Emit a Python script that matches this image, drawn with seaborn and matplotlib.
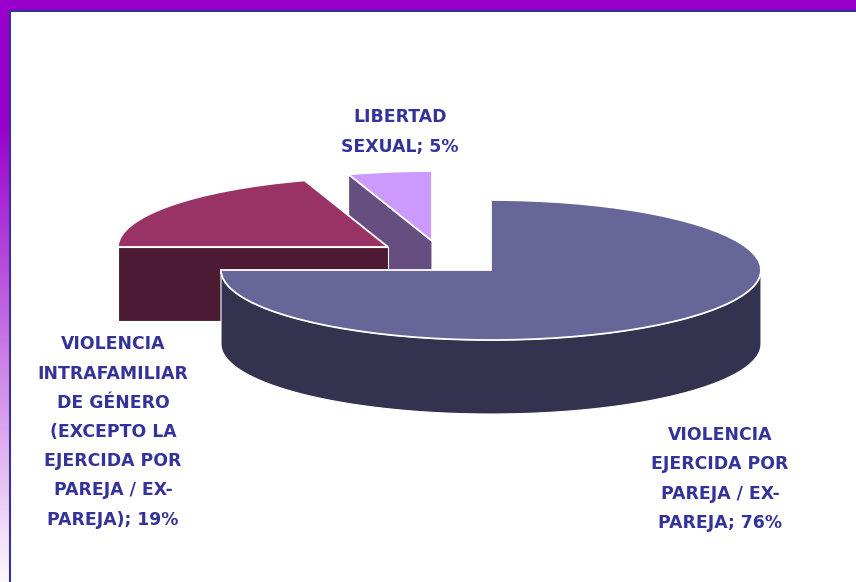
import numpy as np
import matplotlib
matplotlib.use("Agg")
import matplotlib.pyplot as plt
import seaborn as sns

# Data
categories = [
    "VIOLENCIA\nEJERCIDA POR\nPAREJA / EX-\nPAREJA",
    "VIOLENCIA\nINTRAFAMILIAR\nDE GÉNERO\n(EXCEPTO LA\nEJERCIDA POR\nPAREJA / EX-\nPAREJA)",
    "LIBERTAD\nSEXUAL",
]
values = [76, 19, 5]
top_colors = ["#666699", "#993366", "#CC99FF"]
wall_colors = ["#333350", "#4C1A32", "#664E80"]

W, H = 856, 582
RX, RY = 270, 70      # pie radii in pixels
DEPTH = 74 / RY
CX, CY = 491, 270     # centre of the big slice
OFFSETS = [(0, 0), (-103, -23), (-59, -29)]
LABEL_XY = [(720, 479), (113, 432), (400, 132)]
VIEW_SHIFT = 3.6      # the 3-D view foreshortens the border between slices 1 and 2

sns.set_theme(style="white")
plt.rcParams["font.family"] = ["DejaVu Sans"]

fig = plt.figure(figsize=(W / 100, H / 100), dpi=100)
ax = fig.add_axes([0, 0, 1, 1])

starts = 90 - 3.6 * np.concatenate([[0], np.cumsum(values)[:-1]])
# draw back to front
for i in [2, 1, 0]:
    cx = OFFSETS[i][0] / RX
    cy = -OFFSETS[i][1] / RY
    wedges, _ = ax.pie(
        [values[i], 100 - values[i]],
        startangle=starts[i],
        counterclock=False,
        center=(cx, cy),
        radius=1,
        colors=[top_colors[i], "none"],
        wedgeprops={"linewidth": 0},
    )
    top = wedges[0]
    wedges[1].set_visible(False)
    if i == 0:
        top.set_theta1(top.theta1 + VIEW_SHIFT)
    elif i == 1:
        top.set_theta2(top.theta2 + VIEW_SHIFT)
    wall_z = 9 + (2 - i) * 2
    top.set_zorder(wall_z + 1)
    if i == 0:
        # outer rim of the big slice, front half only
        a = np.radians(np.linspace(180, 360, 200))
        xs = np.cos(a) + cx
        ys = np.sin(a) + cy
    else:
        # cut face of the exploded slices
        ang = np.radians(top.theta2)
        xs = np.array([cx, cx + np.cos(ang)])
        ys = np.array([cy, cy + np.sin(ang)])
    ax.fill(np.r_[xs, xs[::-1]], np.r_[ys, ys[::-1] - DEPTH],
            color=wall_colors[i], ec="white", lw=0.8, zorder=wall_z)
    top.set_edgecolor("white")
    top.set_linewidth(1.3)

ax.set_aspect("auto")
ax.set_xlim(-CX / RX, (W - CX) / RX)
ax.set_ylim((CY - H) / RY, CY / RY)
ax.axis("off")

# Labels
for cat, val, (lx, ly) in zip(categories, values, LABEL_XY):
    fig.text(lx / W, 1 - ly / H, f"{cat}; {val}%", ha="center", va="center",
             color="#333399", fontsize=12.4, fontweight="bold", linespacing=1.8,
             zorder=30)

# Slide frame: solid purple on top, fading to white down the left strip
purple = np.array([0x99, 0x00, 0xCC]) / 255
frame = fig.add_axes([0, 0, 1, 1], zorder=-1)
grad = np.clip((np.arange(H) - 125) / (H - 115), 0, 1)[:, None, None]
img = purple * (1 - grad) + grad
frame.imshow(img, extent=(0, 10, H, 0), aspect="auto")
frame.fill_between([0, W], 0, 10, color=purple, lw=0)
frame.plot([10.5, 10.5, W], [H, 10.5, 10.5], color="#333399", lw=1.5)
frame.set_xlim(0, W)
frame.set_ylim(H, 0)
frame.axis("off")

fig.savefig("out.png", dpi=100)
